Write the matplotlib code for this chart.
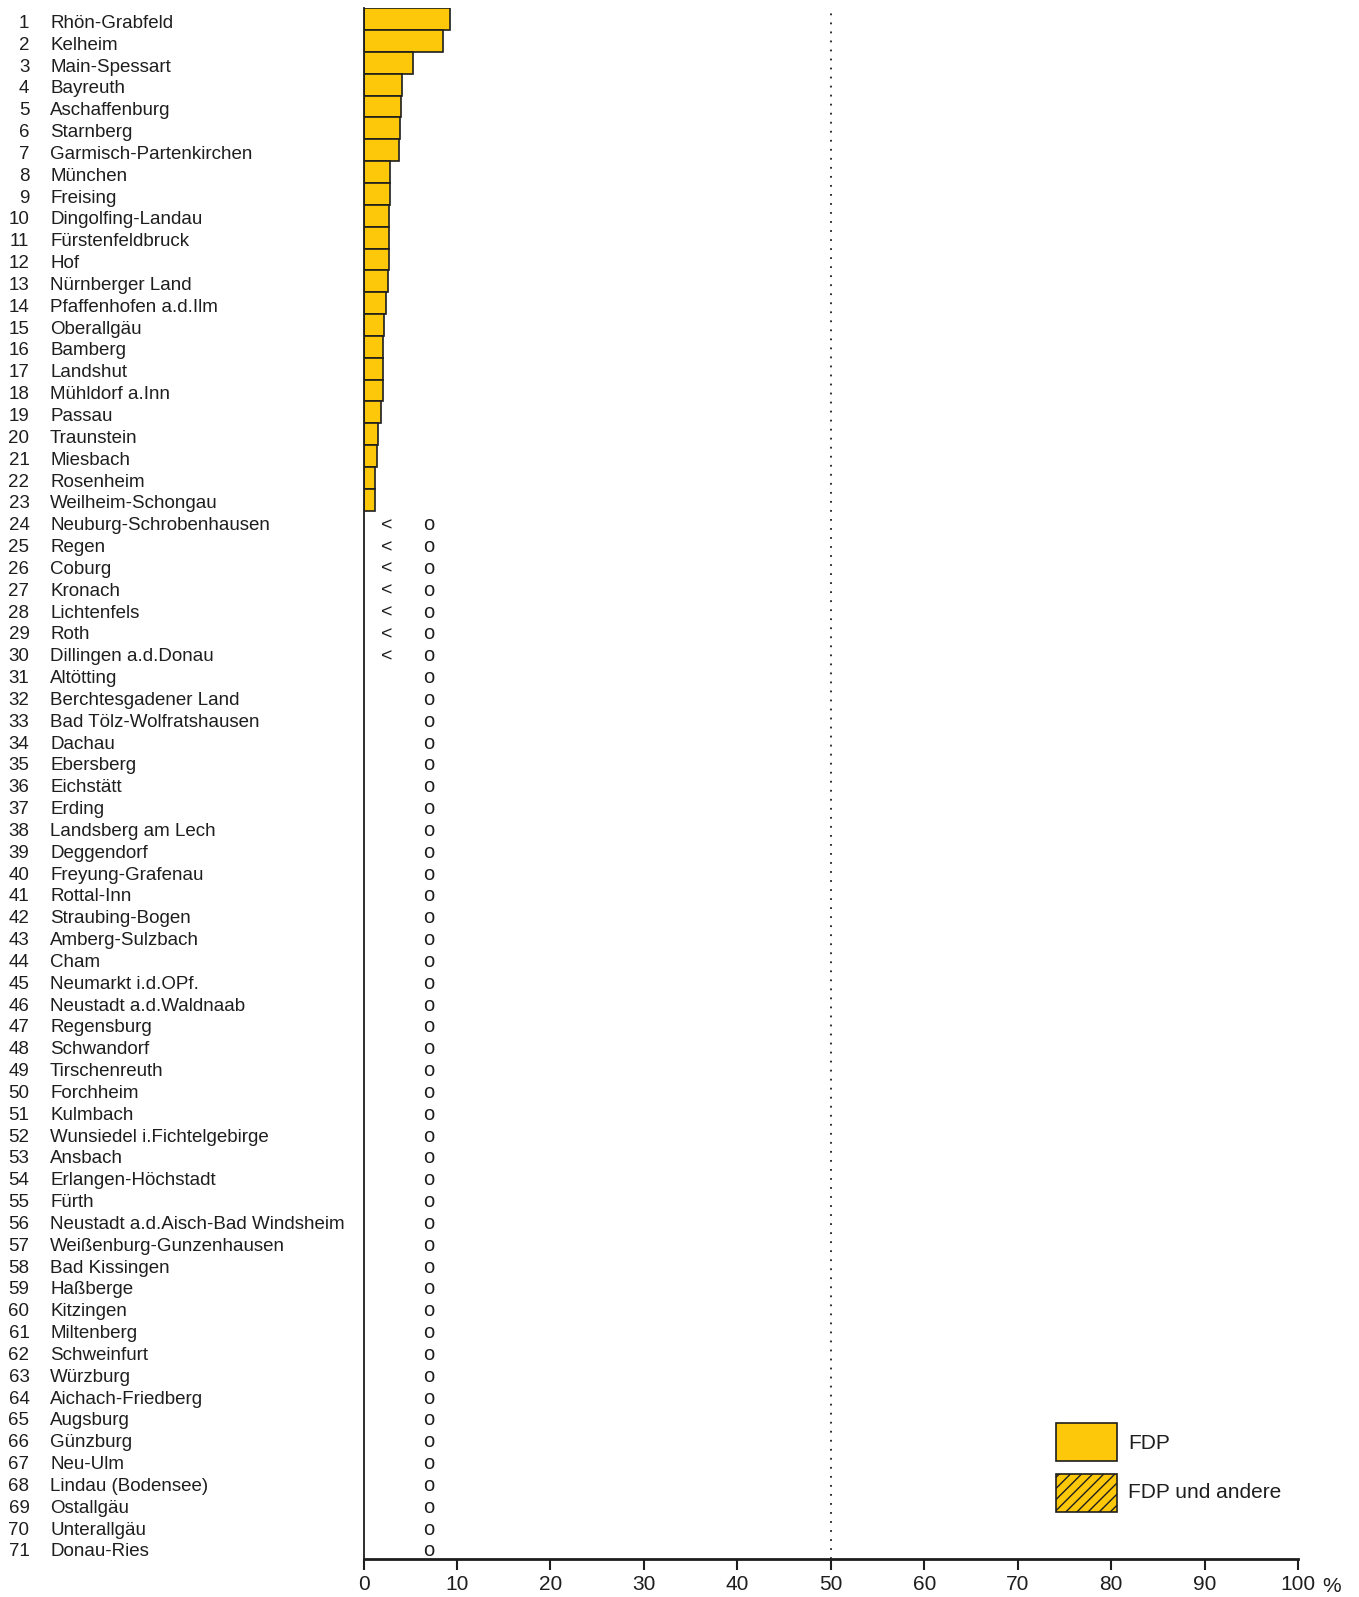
import matplotlib.pyplot as plt
import matplotlib.transforms as mtransforms
from matplotlib.patches import Rectangle

plt.rcParams['font.family'] = ['Liberation Sans', 'DejaVu Sans']
plt.rcParams['hatch.linewidth'] = 1.0

kreise = ['Rhön-Grabfeld', 'Kelheim', 'Main-Spessart', 'Bayreuth', 'Aschaffenburg',
          'Starnberg', 'Garmisch-Partenkirchen', 'München', 'Freising', 'Dingolfing-Landau',
          'Fürstenfeldbruck', 'Hof', 'Nürnberger Land', 'Pfaffenhofen a.d.Ilm', 'Oberallgäu',
          'Bamberg', 'Landshut', 'Mühldorf a.Inn', 'Passau', 'Traunstein',
          'Miesbach', 'Rosenheim', 'Weilheim-Schongau', 'Neuburg-Schrobenhausen', 'Regen',
          'Coburg', 'Kronach', 'Lichtenfels', 'Roth', 'Dillingen a.d.Donau',
          'Altötting', 'Berchtesgadener Land', 'Bad Tölz-Wolfratshausen', 'Dachau', 'Ebersberg',
          'Eichstätt', 'Erding', 'Landsberg am Lech', 'Deggendorf', 'Freyung-Grafenau',
          'Rottal-Inn', 'Straubing-Bogen', 'Amberg-Sulzbach', 'Cham', 'Neumarkt i.d.OPf.',
          'Neustadt a.d.Waldnaab', 'Regensburg', 'Schwandorf', 'Tirschenreuth', 'Forchheim',
          'Kulmbach', 'Wunsiedel i.Fichtelgebirge', 'Ansbach', 'Erlangen-Höchstadt', 'Fürth',
          'Neustadt a.d.Aisch-Bad Windsheim', 'Weißenburg-Gunzenhausen', 'Bad Kissingen', 'Haßberge', 'Kitzingen',
          'Miltenberg', 'Schweinfurt', 'Würzburg', 'Aichach-Friedberg', 'Augsburg',
          'Günzburg', 'Neu-Ulm', 'Lindau (Bodensee)', 'Ostallgäu', 'Unterallgäu',
          'Donau-Ries']

# FDP share in % (first 23 districts)
fdp = [9.25, 8.47, 5.33, 4.08, 4.05, 3.94, 3.83, 2.83, 2.8, 2.77,
       2.77, 2.72, 2.66, 2.45, 2.23, 2.12, 2.05, 2.05, 1.87, 1.59,
       1.48, 1.2, 1.2]

# rows with "<" and "o" marks
rows_lt = list(range(24, 31))
rows_o = list(range(24, 72))

gelb = '#FEC80A'
dunkel = '#1e1e1e'
fs = 13.5
off = 0.40  # baseline offset below row center

fig = plt.figure(figsize=(13.59, 15.97), dpi=100)
ax = fig.add_axes([0.2675, 0.024, 0.6876, 0.9708])

pos = list(range(1, len(fdp) + 1))
ax.barh(pos, fdp, height=1.0, color=gelb, edgecolor=dunkel, linewidth=1.2)

for r in rows_lt:
    ax.text(2.5, r + off, '<', ha='center', va='baseline', fontsize=14, color=dunkel)
for r in rows_o:
    ax.text(7.0, r + off, 'o', ha='center', va='baseline', fontsize=14.5, color=dunkel)

ax.axvline(50, color=dunkel, linestyle=(0, (1, 4)), linewidth=1.3)

ax.set_xlim(0, 100)
ax.set_ylim(71.5, 0.5)
ax.set_xticks(range(0, 101, 10))
ax.set_yticks([])
ax.tick_params(axis='x', direction='out', length=8, width=1.5, labelsize=15,
               colors=dunkel, pad=4)
for s in ['top', 'right']:
    ax.spines[s].set_visible(False)
ax.spines['left'].set_linewidth(1.3)
ax.spines['bottom'].set_linewidth(2)
ax.spines['left'].set_color(dunkel)
ax.spines['bottom'].set_color(dunkel)

trans = mtransforms.blended_transform_factory(fig.transFigure, ax.transData)
for i, name in enumerate(kreise):
    ax.text(29.5 / 1359, i + 1 + off, str(i + 1), transform=trans, ha='right',
            va='baseline', fontsize=fs, color=dunkel)
    ax.text(50 / 1359, i + 1 + off, name, transform=trans, ha='left',
            va='baseline', fontsize=fs, color=dunkel)

fig.text(1332 / 1359, 1 - 1586 / 1597, '%', ha='center', va='center',
         fontsize=15, color=dunkel)

# legend
fig.patches.append(Rectangle((0.7768, 0.0852), 0.0449, 0.0236, transform=fig.transFigure,
                             facecolor=gelb, edgecolor=dunkel, linewidth=1.2))
fig.patches.append(Rectangle((0.7768, 0.0534), 0.0449, 0.0236, transform=fig.transFigure,
                             facecolor=gelb, edgecolor=dunkel, linewidth=1.2, hatch='///'))
fig.text(0.830, 0.0964, 'FDP', ha='left', va='center', fontsize=15, color=dunkel)
fig.text(0.830, 0.0657, 'FDP und andere', ha='left', va='center', fontsize=15, color=dunkel)

fig.savefig('out.png', dpi=100)
